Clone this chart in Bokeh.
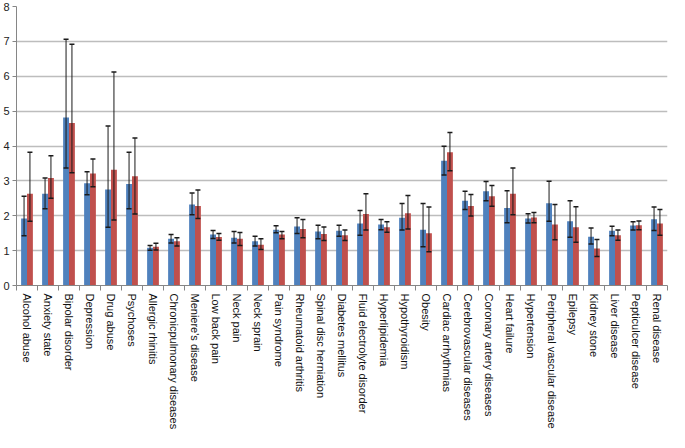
from bokeh.plotting import figure
from bokeh.models import Range1d, FixedTicker, ColumnDataSource, Whisker, TeeHead
from bokeh.embed import file_html
from bokeh.resources import INLINE
import numpy as np

categories = ["Alcohol abuse", "Anxiety state", "Bipolar disorder", "Depression", "Drug abuse",
              "Psychoses", "Allergic rhinitis", "Chronicpulmonary diseases", "Meniere's disease",
              "Low back pain", "Neck pain", "Neck sprain", "Pain syndrome", "Rheumatoid arthritis",
              "Spinal disc herniation", "Diabetes mellitus", "Fluid electrolyte disorder",
              "Hyperlipidemia", "Hypothyroidism", "Obesity", "Cardiac arrhythmias",
              "Cerebrovascular diseases", "Coronary artery diseases", "Heart failure",
              "Hypertension", "Peripheral vascular disease", "Epilepsy", "Kidney stone",
              "Liver disease", "Pepticulcer disease", "Renal disease"]

blue = [1.92, 2.63, 4.82, 2.93, 2.75, 2.91, 1.08, 1.34, 2.32, 1.46, 1.37, 1.27, 1.60, 1.69, 1.55,
        1.57, 1.78, 1.75, 1.94, 1.60, 3.58, 2.43, 2.70, 2.22, 1.92, 2.36, 1.84, 1.40, 1.57, 1.72, 1.90]
blue_hi = [2.56, 3.08, 7.06, 3.26, 4.57, 3.82, 1.15, 1.46, 2.65, 1.58, 1.55, 1.41, 1.71, 1.94, 1.73,
           1.73, 2.15, 1.89, 2.35, 2.35, 3.99, 2.70, 2.98, 2.72, 2.06, 2.99, 2.43, 1.65, 1.70, 1.83, 2.25]
blue_lo = [1.43, 2.20, 3.37, 2.60, 1.67, 2.20, 1.01, 1.22, 2.03, 1.35, 1.22, 1.13, 1.51, 1.49, 1.34,
           1.41, 1.44, 1.60, 1.59, 1.11, 3.17, 2.18, 2.43, 1.80, 1.79, 1.84, 1.38, 1.19, 1.43, 1.59, 1.58]
red = [2.63, 3.08, 4.66, 3.21, 3.32, 3.13, 1.11, 1.27, 2.28, 1.39, 1.34, 1.17, 1.46, 1.62, 1.48,
       1.44, 2.05, 1.67, 2.07, 1.50, 3.82, 2.28, 2.56, 2.63, 1.95, 1.75, 1.67, 1.06, 1.44, 1.73, 1.78]
red_hi = [3.82, 3.72, 6.92, 3.63, 6.12, 4.23, 1.21, 1.37, 2.74, 1.49, 1.52, 1.34, 1.55, 1.89, 1.68,
          1.59, 2.63, 1.83, 2.58, 2.25, 4.39, 2.61, 2.87, 3.37, 2.09, 2.32, 2.26, 1.32, 1.59, 1.85, 2.18]
red_lo = [1.84, 2.50, 3.23, 2.83, 1.88, 2.05, 1.02, 1.13, 1.92, 1.30, 1.15, 1.03, 1.34, 1.37, 1.29,
          1.29, 1.59, 1.53, 1.62, 0.97, 3.29, 1.99, 2.27, 2.03, 1.80, 1.31, 1.24, 0.83, 1.30, 1.60, 1.44]
y_ticks = [0, 1, 2, 3, 4, 5, 6, 7, 8]

n = len(categories)
idx = np.arange(n)
bw = 0.28

src_b = ColumnDataSource(dict(x=idx - bw / 2, top=blue, hi=blue_hi, lo=blue_lo))
src_r = ColumnDataSource(dict(x=idx + bw / 2, top=red, hi=red_hi, lo=red_lo))

p = figure(width=669, height=432, output_backend="svg", toolbar_location=None,
           x_range=Range1d(-0.5, n - 0.5), y_range=Range1d(0, 8),
           min_border_left=0, min_border_right=2, min_border_top=6, min_border_bottom=0)
p.outline_line_color = None
p.background_fill_color = "white"
p.border_fill_color = "white"
p.xgrid.visible = False
p.ygrid.grid_line_color = "#bdbdbd"
p.ygrid.grid_line_width = 1.5

p.vbar(x="x", top="top", width=bw, source=src_b, fill_color="#4f81bd", line_color=None)
p.vbar(x="x", top="top", width=bw, source=src_r, fill_color="#c0504d", line_color=None)

for src in (src_b, src_r):
    w = Whisker(source=src, base="x", upper="hi", lower="lo", dimension="height",
                line_color="#1a1a1a", line_width=1, level="overlay",
                upper_head=TeeHead(size=5, line_color="#1a1a1a", line_width=1.5),
                lower_head=TeeHead(size=5, line_color="#1a1a1a", line_width=1.5))
    p.add_layout(w)

# y axis
p.yaxis.ticker = FixedTicker(ticks=y_ticks)
p.yaxis.axis_line_color = "#868686"
p.yaxis.major_tick_line_color = "#868686"
p.yaxis.major_tick_out = 4
p.yaxis.major_tick_in = 0
p.yaxis.minor_tick_line_color = None
p.yaxis.major_label_text_font = "Liberation Sans"
p.yaxis.major_label_text_font_size = "11px"
p.yaxis.major_label_text_color = "#222222"
p.yaxis.major_label_standoff = 3

# x axis
p.xaxis.ticker = FixedTicker(ticks=list(idx), minor_ticks=list(idx - 0.5) + [n - 0.5])
p.xaxis.major_label_overrides = {int(i): c for i, c in zip(idx, categories)}
p.xaxis.major_label_orientation = "vertical"
p.xaxis.axis_line_color = "#868686"
p.xaxis.major_tick_line_color = None
p.xaxis.major_tick_out = 0
p.xaxis.major_tick_in = 0
p.xaxis.minor_tick_line_color = "#868686"
p.xaxis.minor_tick_out = 5
p.xaxis.minor_tick_in = 0
p.xaxis.major_label_text_font = "Liberation Sans"
p.xaxis.major_label_text_font_size = "11px"
p.xaxis.major_label_text_color = "#111111"
p.xaxis.major_label_standoff = 3

open("out.html", "w").write(file_html(p, INLINE))
